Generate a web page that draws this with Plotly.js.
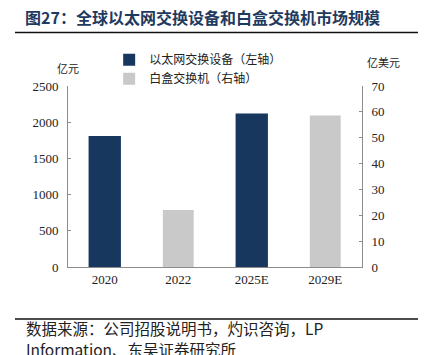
<!DOCTYPE html>
<html>
<head>
<meta charset="utf-8">
<script src="https://cdn.plot.ly/plotly-3.0.1.min.js"></script>
<style>html,body{margin:0;padding:0;background:#fff;}#chart{width:425px;height:355px;}</style>
</head>
<body>
<div id="chart"></div>
<script>
var categories = ['2020', '2022', '2025E', '2029E'];
var ethernetValues = [1810, null, 2120, null];   // 亿元, left axis
var whiteboxValues = [null, 22, null, 58.6];     // 亿美元, right axis
var leftTicks = [0, 500, 1000, 1500, 2000, 2500];
var rightTicks = [0, 10, 20, 30, 40, 50, 60, 70];
var seriesNames = ['以太网交换设备（左轴）', '白盒交换机（右轴）'];
var titleText = '图27：全球以太网交换设备和白盒交换机市场规模';
var sourceLine1 = '数据来源：公司招股说明书，灼识咨询，LP';
var sourceLine2 = 'Information、东吴证券研究所';

var CJK = '"Noto Sans CJK SC", "Noto Sans", sans-serif';
var SERIF = '"Liberation Serif", "DejaVu Serif", serif';
var axisColor = '#8c8c8c';

var traces = [
  {type: 'bar', x: categories, y: ethernetValues, name: seriesNames[0], yaxis: 'y',
   width: 0.44, marker: {color: '#17375e', line: {width: 0}}},
  {type: 'bar', x: categories, y: whiteboxValues, name: seriesNames[1], yaxis: 'y2',
   width: 0.42, marker: {color: '#c9c9c9', line: {width: 0}}}
];

var layout = {
  width: 425, height: 355,
  margin: {l: 68, r: 63, t: 86, b: 88},
  paper_bgcolor: '#fff', plot_bgcolor: '#fff',
  barmode: 'overlay',
  showlegend: true,
  legend: {x: 0.14, y: 1.225, xanchor: 'left', yanchor: 'top',
           font: {family: CJK, size: 12, color: '#222'},
           bgcolor: 'rgba(0,0,0,0)', tracegroupgap: 0, itemwidth: 30},
  title: {text: '<b>' + titleText + '</b>', x: 25/425, xanchor: 'left', xref: 'container',
          y: 1 - 18/355, yanchor: 'middle', yref: 'container',
          font: {family: CJK, size: 16, color: '#1f3a5f'}},
  xaxis: {type: 'category', range: [-0.5, 3.5], showline: true, linecolor: axisColor, linewidth: 1,
          ticks: '', showgrid: false, zeroline: false,
          tickfont: {family: SERIF, size: 13, color: '#222'}},
  yaxis: {range: [0, 2500], tickvals: leftTicks, showline: true, linecolor: axisColor, linewidth: 1,
          ticks: 'inside', ticklen: 3, tickcolor: axisColor, showgrid: false, zeroline: false,
          ticklabelstandoff: 6,
          tickfont: {family: SERIF, size: 13, color: '#222'}},
  yaxis2: {range: [0, 70], tickvals: rightTicks, overlaying: 'y', side: 'right', showline: true,
           linecolor: axisColor, linewidth: 1, ticks: 'inside', ticklen: 3, tickcolor: axisColor,
           showgrid: false, zeroline: false, ticklabelstandoff: 6,
           tickfont: {family: SERIF, size: 13, color: '#222'}},
  shapes: [
    {type: 'line', xref: 'paper', yref: 'paper', x0: (15-68)/294, x1: (418-68)/294,
     y0: (267-32.5)/181, y1: (267-32.5)/181, line: {color: '#111', width: 1.6}},
    {type: 'line', xref: 'paper', yref: 'paper', x0: (15-68)/294, x1: (418-68)/294,
     y0: (267-319)/181, y1: (267-319)/181, line: {color: '#111', width: 1.6}}
  ],
  annotations: [
    {text: '亿元', xref: 'paper', yref: 'paper', x: (55-68)/294, y: (267-67.5)/181,
     xanchor: 'left', yanchor: 'middle', showarrow: false,
     font: {family: CJK, size: 11, color: '#222'}},
    {text: '亿美元', xref: 'paper', yref: 'paper', x: (365-68)/294, y: (267-62)/181,
     xanchor: 'left', yanchor: 'middle', showarrow: false,
     font: {family: CJK, size: 11, color: '#222'}},
    {text: sourceLine1, xref: 'paper', yref: 'paper', x: (24-68)/294, y: (267-327.5)/181,
     xanchor: 'left', yanchor: 'middle', showarrow: false,
     font: {family: CJK, size: 15.5, color: '#222'}},
    {text: sourceLine2, xref: 'paper', yref: 'paper', x: (24-68)/294, y: (267-349)/181,
     xanchor: 'left', yanchor: 'middle', showarrow: false,
     font: {family: CJK, size: 15.5, color: '#222'}}
  ]
};

Plotly.newPlot('chart', traces, layout, {displayModeBar: false, staticPlot: true});
</script>
</body>
</html>
